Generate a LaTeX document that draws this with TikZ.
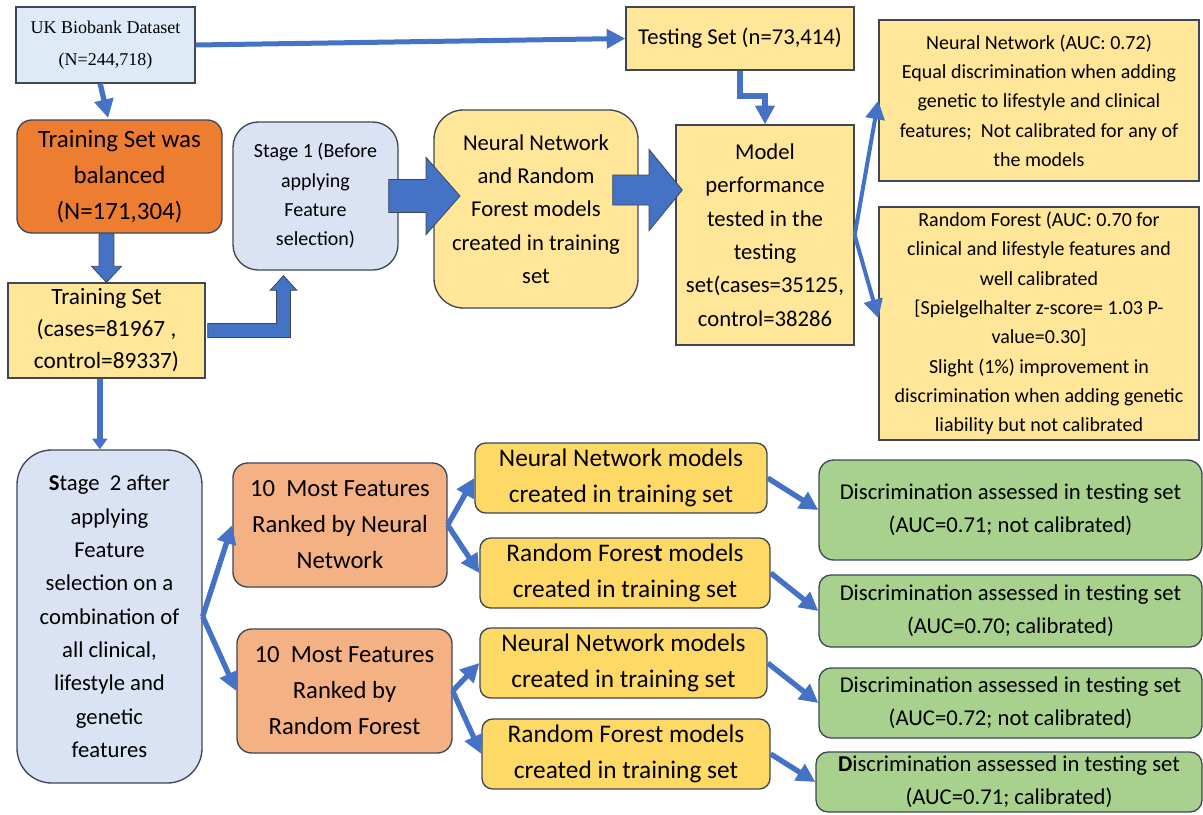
\documentclass[tikz,border=0pt]{standalone}
\usepackage{fontspec}
\setmainfont{Carlito}
\newfontfamily\serifText{Liberation Serif}
\usetikzlibrary{arrows.meta, calc, positioning}

\definecolor{skyFill}{HTML}{DEEBF7}
\definecolor{stageFill}{HTML}{DAE3F3}
\definecolor{orangeFill}{HTML}{ED7D31}
\definecolor{salmonFill}{HTML}{F4B183}
\definecolor{paleYellow}{HTML}{FFE699}
\definecolor{goldFill}{HTML}{FFD966}
\definecolor{greenFill}{HTML}{A9D18E}
\definecolor{flowBlue}{HTML}{4472C4}
\definecolor{edgeGrey}{HTML}{3E4756}

% start, tip, shaft half width, head half width, head length
\newcommand{\blockArrowRight}[5]{%
	\filldraw[blockArrow] ($(#1)+(0,#3)$) -- ($(#2)+(-#5,#3)$) -- ($(#2)+(-#5,#4)$) -- (#2)
		-- ($(#2)+(-#5,-#4)$) -- ($(#2)+(-#5,-#3)$) -- ($(#1)+(0,-#3)$) -- cycle;}

\begin{document}
\begin{tikzpicture}
	[
		x=0.75pt, y=-0.75pt,
		box/.style={
				rectangle,
				draw=edgeGrey,
				line width=1pt,
				align=center,
				inner sep=0pt,
			},
		roundBox/.style={
				box,
				rounded corners=#1,
			},
		blockArrow/.style={
				fill=flowBlue,
				draw=edgeGrey,
				line width=0.6pt,
				line join=miter,
			},
		flow/.style={
				draw=flowBlue,
				line width=4pt,
				-{Triangle[length=14pt,width=14pt]},
			},
		textMid/.style={font=\fontsize{17}{25}\selectfont},
	]
	\useasboundingbox (0,0) rectangle (1203,814);

	% top row
	\node[box, fill=skyFill, minimum width=134.25pt, minimum height=57pt,
		font=\serifText\fontsize{13.5}{24}\selectfont] (uk) at (105.5,45)
		{UK Biobank Dataset\\(N=244,718)};
	\node[roundBox=11pt, fill=orangeFill, minimum width=153.75pt, minimum height=84.75pt,
		font=\fontsize{18.7}{27}\selectfont] (bal) at (119.5,176.5)
		{Training Set was\\balanced\\(N=171,304)};
	\node[box, fill=paleYellow, minimum width=147.75pt, minimum height=71.25pt,
		font=\fontsize{17.5}{24}\selectfont] (train) at (106.5,330.5)
		{Training Set\\(cases=81967 ,\\control=89337)};
	\node[roundBox=19pt, fill=stageFill, minimum width=123.75pt, minimum height=111pt,
		font=\fontsize{15}{22}\selectfont] (stage1) at (315.5,196)
		{Stage 1 (Before\\applying\\Feature\\selection)};
	\node[roundBox=22pt, fill=paleYellow, minimum width=153pt, minimum height=148.5pt,
		textMid] (nnrf) at (536,209)
		{Neural Network\\and Random\\Forest models\\created in training\\set};
	\node[box, fill=paleYellow, minimum width=171pt, minimum height=47.25pt,
		font=\fontsize{17}{24}\selectfont] (test) at (740,38.5)
		{Testing Set (n=73,414)};
	\node[box, fill=paleYellow, minimum width=133.5pt, minimum height=165pt,
		textMid] (perf) at (765,235)
		{Model\\performance\\tested in the\\testing\\set(cases=35125,\\control=38286};
	\node[box, fill=paleYellow, minimum width=240pt, minimum height=120.75pt,
		font=\fontsize{15}{22}\selectfont] (nnauc) at (1039,100.5)
		{Neural Network (AUC: 0.72)\\Equal discrimination when adding\\genetic to lifestyle and clinical\\features;~ Not calibrated for any of\\the models};
	\node[box, fill=paleYellow, minimum width=240pt, minimum height=174.75pt,
		font=\fontsize{15}{22}\selectfont] (rfauc) at (1039,323.5)
		{Random Forest (AUC: 0.70 for\\clinical and lifestyle features and\\well calibrated\\{[}Spielgelhalter z-score= 1.03 P-\\value=0.30]\\Slight (1\%) improvement in\\discrimination when adding genetic\\liability but not calibrated};

	% stage 2
	\node[roundBox=26pt, fill=stageFill, minimum width=138.75pt, minimum height=249.75pt,
		textMid] (stage2) at (109.5,616.5)
		{\textbf{S}tage~~2 after\\applying\\Feature\\selection on a\\combination of\\all clinical,\\lifestyle and\\genetic\\features};
	\node[roundBox=11pt, fill=salmonFill, minimum width=160.5pt, minimum height=93pt,
		font=\fontsize{18.5}{27}\selectfont] (topNN) at (340,525)
		{10~~Most Features\\Ranked by Neural\\Network};
	\node[roundBox=11pt, fill=salmonFill, minimum width=161.25pt, minimum height=93pt,
		font=\fontsize{18.5}{27}\selectfont] (topRF) at (344.5,691)
		{10~~Most Features\\Ranked by\\Random Forest};

	\begin{scope}[every node/.style={roundBox=8pt, fill=goldFill, minimum height=52.5pt,
			font=\fontsize{19}{27}\selectfont}]
		\node[minimum width=219pt] (nn1) at (621,478) {Neural Network models\\created in training set};
		\node[minimum width=217.5pt] (rf1) at (625,573) {Random Fores\textbf{t} models\\created in training set};
		\node[minimum width=215.25pt] (nn2) at (623.5,663) {Neural Network models\\created in training set};
		\node[minimum width=216pt] (rf2) at (626,754) {Random Forest models\\created in training set};
	\end{scope}

	\begin{scope}[every node/.style={roundBox=9pt, fill=greenFill, minimum width=287.25pt, textMid}]
		\node[minimum height=75pt, rounded corners=11pt] (d1) at (1010.5,510)
			{Discrimination assessed in testing set\\(AUC=0.71; not calibrated)};
		\node[minimum height=54pt] (d2) at (1010.5,611)
			{Discrimination assessed in testing set\\(AUC=0.70; calibrated)};
		\node[minimum height=52.5pt] (d3) at (1010.5,703)
			{Discrimination assessed in testing set\\(AUC=0.72; not calibrated)};
		\node[minimum height=45pt, minimum width=289.5pt] (d4) at (1009,782)
			{\textbf{D}iscrimination assessed in testing set\\(AUC=0.71; calibrated)};
	\end{scope}

	% block arrows
	\coordinate (balTip) at (train.north);
	\coordinate (balFoot) at (bal.south -| train.north);
	\filldraw[blockArrow] ($(balFoot)+(-5.6pt,0)$) -- ($(balTip)+(-5.6pt,12pt)$) -- ($(balTip)+(-11.25pt,12pt)$)
		-- (balTip) -- ($(balTip)+(11.25pt,12pt)$) -- ($(balTip)+(5.6pt,12pt)$) -- ($(balFoot)+(5.6pt,0)$) -- cycle;

	\coordinate (s1Tip) at ([xshift=-24pt,yshift=-3.75pt]stage1.south);
	\coordinate (s1Bend) at (s1Tip |- train.east);
	\filldraw[blockArrow] ($(train.east)+(1.5pt,5.25pt)$) -- ($(s1Bend)+(-5.25pt,5.25pt)$) -- ($(s1Tip)+(-5.25pt,-11pt)$)
		-- ($(s1Tip)+(-10pt,-11pt)$) -- (s1Tip) -- ($(s1Tip)+(10pt,-11pt)$) -- ($(s1Tip)+(5.25pt,-11pt)$)
		-- ($(s1Bend)+(5.25pt,-5.25pt)$) -- ($(train.east)+(1.5pt,-5.25pt)$) -- cycle;

	\coordinate (nnrfFoot) at ([xshift=-7.5pt]stage1.east);
	\coordinate (nnrfTip) at ([xshift=20pt]nnrf.west |- stage1.east);
	\blockArrowRight{nnrfFoot}{nnrfTip}{12.4pt}{29pt}{25.5pt}

	\coordinate (perfFoot) at ([xshift=-19.5pt,yshift=14.25pt]nnrf.east);
	\coordinate (perfTip) at ([xshift=5.25pt]perf.west |- perfFoot);
	\blockArrowRight{perfFoot}{perfTip}{11.25pt}{30.5pt}{25pt}

	% line arrows
	\draw[flow, line width=3.75pt] (uk.east) -- (test.west);
	\draw[flow] ([xshift=-4pt]uk.south) -- ([xshift=-8.5pt,yshift=1pt]bal.north);
	\draw[flow, line width=4.5pt, line join=miter] (test.south) -- ++(0,-19pt) -| (perf.north);
	\draw[flow, line width=3pt] (perf.east) -- (nnauc.west);
	\draw[flow, line width=3pt] (perf.east) -- ([yshift=4pt]rfauc.west);
	\draw[flow, -{Triangle[length=8pt,width=11pt]}] ([xshift=-5pt]train.south) -- ([xshift=-5pt]train.south |- stage2.north);
	\draw[flow] (stage2.east) -- (topNN.west);
	\draw[flow] (stage2.east) -- (topRF.west);
	\draw[flow] (topNN.east) -- (nn1.west);
	\draw[flow] (topNN.east) -- (rf1.west);
	\draw[flow] (topRF.east) -- (nn2.west);
	\draw[flow] (topRF.east) -- (rf2.west);
	\draw[flow] (nn1.east) -- (d1.west);
	\draw[flow] (rf1.east) -- (d2.west);
	\draw[flow] (nn2.east) -- (d3.west);
	\draw[flow] (rf2.east) -- (d4.west);
\end{tikzpicture}
\end{document}
